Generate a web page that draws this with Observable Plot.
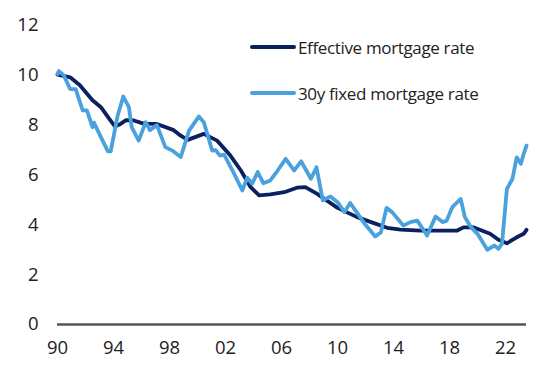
<!DOCTYPE html>
<html>
<head>
<meta charset="utf-8">
<script src="https://cdn.jsdelivr.net/npm/d3@7"></script>
<script src="https://cdn.jsdelivr.net/npm/@observablehq/plot@0.6"></script>
<style>
  html, body { margin: 0; padding: 0; background: #fff; }
  #wrap { position: relative; width: 554px; height: 369px; font-family: "Open Sans", sans-serif; }
  #legend { position: absolute; left: 250px; top: 33px; font-size: 17px; color: #222; letter-spacing: -0.35px; }
  .item { display: flex; align-items: center; height: 28px; margin-bottom: 18px; }
  .sw { width: 46px; height: 4px; border-radius: 2px; margin-right: 2px; }
</style>
</head>
<body>
<div id="wrap"></div>
<script>
const seriesNames = ["Effective mortgage rate", "30y fixed mortgage rate"];
const seriesColors = ["#0b205e", "#4aa1dd"];

const effYears = [1990, 1990.9, 1991.6, 1992.5, 1993.1, 1993.7, 1994.1, 1994.5, 1994.9, 1995.45, 1996.2, 1997.1, 1998.3, 1998.8, 1999.3, 2000.45, 2001.4, 2002.35, 2003.1, 2003.8, 2004.4, 2005.2, 2006.2, 2007.1, 2007.7, 2008.55, 2010.0, 2011.4, 2012.6, 2013.55, 2014.5, 2015.9, 2018.55, 2019.0, 2019.7, 2020.9, 2021.5, 2022.1, 2022.8, 2023.3, 2023.5];
const effRates = [10.03, 9.92, 9.6, 9.0, 8.72, 8.25, 7.95, 8.05, 8.2, 8.19, 8.05, 8.05, 7.8, 7.58, 7.41, 7.65, 7.38, 6.78, 6.18, 5.51, 5.18, 5.22, 5.31, 5.49, 5.51, 5.24, 4.68, 4.31, 4.07, 3.88, 3.81, 3.77, 3.77, 3.9, 3.9, 3.64, 3.4, 3.26, 3.5, 3.64, 3.8];

const fixYears = [1990.0, 1990.1, 1990.45, 1990.9, 1991.3, 1991.8, 1992.1, 1992.5, 1992.6, 1993.1, 1993.6, 1993.8, 1994.3, 1994.7, 1995.1, 1995.3, 1995.8, 1996.3, 1996.6, 1997.1, 1997.7, 1998.2, 1998.8, 1999.4, 2000.1, 2000.45, 2001.05, 2001.3, 2001.6, 2001.9, 2002.5, 2003.2, 2003.55, 2003.9, 2004.3, 2004.7, 2005.2, 2005.7, 2006.3, 2006.9, 2007.4, 2008.1, 2008.5, 2008.95, 2009.5, 2010.0, 2010.5, 2010.9, 2011.5, 2012.0, 2012.7, 2013.1, 2013.5, 2013.9, 2014.7, 2015.2, 2015.7, 2016.4, 2017.0, 2017.5, 2017.8, 2018.2, 2018.4, 2018.8, 2019.1, 2019.5, 2020.0, 2020.7, 2021.2, 2021.5, 2021.75, 2022.1, 2022.5, 2022.8, 2023.1, 2023.3, 2023.5];
const fixRates = [10.05, 10.17, 10.0, 9.45, 9.45, 8.59, 8.59, 7.92, 8.1, 7.52, 6.95, 6.95, 8.39, 9.15, 8.72, 7.92, 7.38, 8.12, 7.8, 8.0, 7.12, 6.98, 6.72, 7.78, 8.35, 8.12, 6.98, 7.0, 6.78, 6.82, 6.18, 5.38, 5.89, 5.65, 6.12, 5.67, 5.78, 6.16, 6.65, 6.18, 6.55, 5.85, 6.31, 4.98, 5.14, 4.91, 4.51, 4.88, 4.4, 4.0, 3.53, 3.7, 4.68, 4.51, 3.97, 4.11, 4.17, 3.57, 4.33, 4.11, 4.17, 4.71, 4.82, 5.04, 4.31, 3.93, 3.64, 3.0, 3.17, 3.04, 3.24, 5.44, 5.85, 6.71, 6.45, 6.85, 7.18];

const xTicks = [1990, 1994, 1998, 2002, 2006, 2010, 2014, 2018, 2022];
const yTicks = [0, 2, 4, 6, 8, 10, 12];

const eff = effYears.map((x, i) => ({x, y: effRates[i]}));
const fix = fixYears.map((x, i) => ({x, y: fixRates[i]}));

const chart = Plot.plot({
  width: 554,
  height: 369,
  marginLeft: 57,
  marginRight: 28,
  marginTop: 25,
  marginBottom: 45,
  style: {fontFamily: "Open Sans, sans-serif", fontSize: "18.5px", color: "#222", background: "#fff"},
  x: {domain: [1990, 2023.5], ticks: xTicks, tickSize: 0, tickPadding: 16, tickFormat: d => String(d % 100).padStart(2, "0"), label: null},
  y: {domain: [0, 12], ticks: yTicks, tickSize: 0, tickPadding: 19, label: null},
  marks: [
    Plot.ruleY([0], {stroke: "#555", strokeWidth: 2.5}),
    Plot.line(eff, {x: "x", y: "y", stroke: seriesColors[0], strokeWidth: 3.8, strokeLinejoin: "round", strokeLinecap: "round"}),
    Plot.line(fix, {x: "x", y: "y", stroke: seriesColors[1], strokeWidth: 3.8, strokeLinejoin: "round", strokeLinecap: "round"})
  ]
});
const wrap = document.getElementById("wrap");
wrap.appendChild(chart);

const legend = document.createElement("div");
legend.id = "legend";
seriesNames.forEach((n, i) => {
  const it = document.createElement("div");
  it.className = "item";
  const sw = document.createElement("span");
  sw.className = "sw";
  sw.style.background = seriesColors[i];
  const t = document.createElement("span");
  t.textContent = n;
  it.appendChild(sw); it.appendChild(t);
  legend.appendChild(it);
});
wrap.appendChild(legend);
</script>
</body>
</html>
